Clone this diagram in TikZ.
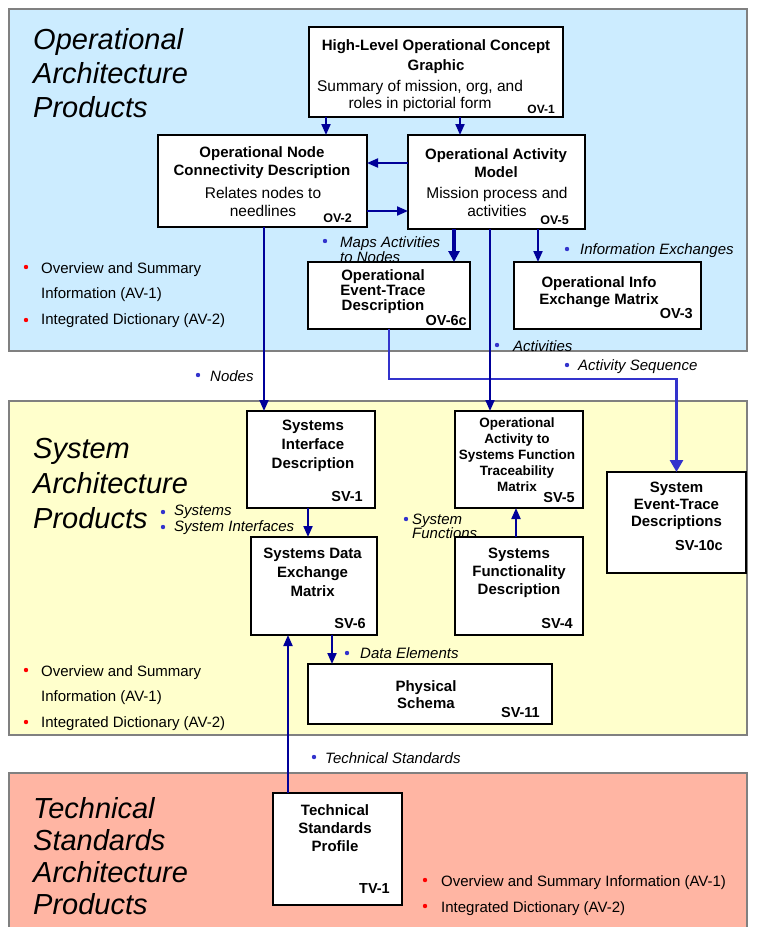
\documentclass[tikz,border=0pt]{standalone}
\usepackage{fontspec}
\setmainfont{Liberation Sans}
\usetikzlibrary{arrows.meta}

\definecolor{opblue}{HTML}{CCECFF}
\definecolor{sysyellow}{HTML}{FFFFCC}
\definecolor{techsalmon}{HTML}{FFB5A3}
\definecolor{panelgray}{HTML}{808080}
\definecolor{navy}{HTML}{000099}
\definecolor{linkblue}{HTML}{3333CC}
\definecolor{avred}{HTML}{FF0000}

% font helpers: size and leading
\newcommand\boxfont[2]{\fontsize{#1}{#2}\selectfont\bfseries}
\newcommand\plainfont[2]{\fontsize{#1}{#2}\selectfont}

\begin{document}
\begin{tikzpicture}[x=1pt,y=-1pt,
  panel/.style={draw=panelgray,line width=2.5pt},
  prod/.style={draw=black,line width=2pt,fill=white,anchor=north west,inner sep=0pt,outer sep=0pt},
  txt/.style={inner sep=0pt,align=center,anchor=north},
  code/.style={font=\boxfont{14.5}{14.5},inner sep=0pt,anchor=base east},
  title/.style={font=\plainfont{29}{34}\itshape,inner sep=0pt,align=left,anchor=north west},
  avlist/.style={font=\plainfont{15}{25.5},inner sep=0pt,align=left,anchor=north west},
  lbl/.style={font=\plainfont{15}{15}\itshape,inner sep=0pt,align=left,anchor=north west},
  flow/.style={navy,line width=2pt,-{Triangle[length=11pt,width=9pt]}},
  heavyflow/.style={navy,line width=4pt,-{Triangle[length=11pt,width=11pt]}},
  seq/.style={linkblue,line width=2.8pt,-{Triangle[length=12pt,width=13pt]}},
  bluedot/.style={fill=linkblue},
  reddot/.style={fill=avred}
]
\useasboundingbox (0,0) rectangle (756,927);
\fill[white] (0,0) rectangle (756,927);

% ---- panels ----
\filldraw[panel,fill=opblue] (9,9) rectangle (747,351);
\filldraw[panel,fill=sysyellow] (9,401) rectangle (747,735);
\filldraw[panel,fill=techsalmon] (9,773) rectangle (747,940);

% ---- panel titles ----
\node[title] (optitle) at (33,28) {Operational\\Architecture\\Products};
\node[title] (systitle) at (33,438) {System\\[1pt]Architecture\\[1pt]Products};
\node[title,font=\plainfont{29}{32}\itshape] (techtitle) at (33,797) {Technical\\Standards\\Architecture\\Products};

% ---- all-view lists ----
\fill[reddot] (26,267) circle (2.2pt);
\fill[reddot] (26,320) circle (2.2pt);
\node[avlist] (opav) at (41,262.2) {Overview and Summary\\Information (AV-1)\\Integrated Dictionary (AV-2)};
\fill[reddot] (26,670) circle (2.2pt);
\fill[reddot] (26,722) circle (2.2pt);
\node[avlist] (sysav) at (41,665.2) {Overview and Summary\\Information (AV-1)\\Integrated Dictionary (AV-2)};
\fill[reddot] (425,880) circle (2.2pt);
\fill[reddot] (425,906) circle (2.2pt);
\node[avlist,font=\plainfont{15}{26}] (techav) at (441,875.2) {Overview and Summary Information (AV-1)\\Integrated Dictionary (AV-2)};

% ---- connector labels ----
\fill[bluedot] (325,241) circle (2.2pt);
\node[lbl,font=\plainfont{15}{12}\itshape] (lmaps) at (340,236.2) {Maps Activities\\to Nodes};
\fill[bluedot] (567,249) circle (2.2pt);
\node[lbl] (linfo) at (580,243.2) {Information Exchanges};
\fill[bluedot] (497,345) circle (2.2pt);
\node[lbl] (lact) at (513,340.2) {Activities};
\fill[bluedot] (567,365) circle (2.2pt);
\node[lbl] (lseq) at (578,359.2) {Activity Sequence};
\fill[bluedot] (198,375) circle (2.2pt);
\node[lbl] (lnodes) at (210,370.2) {Nodes};
\fill[bluedot] (163,512) circle (2.2pt);
\fill[bluedot] (163,527) circle (2.2pt);
\node[lbl,font=\plainfont{15}{16}\itshape] (lsys) at (174,505.2) {Systems\\System Interfaces};
\fill[bluedot] (406,519) circle (2.2pt);
\node[lbl,font=\plainfont{15}{14}\itshape] (lfunc) at (412,514.2) {System\\Functions};
\fill[bluedot] (347,653) circle (2.2pt);
\node[lbl] (ldata) at (360,647.2) {Data Elements};
\fill[bluedot] (314,757) circle (2.2pt);
\node[lbl] (ltech) at (325,752.2) {Technical Standards};

% ---- product boxes ----
\node[prod,minimum width=254pt,minimum height=90pt] (ov1) at (309,27) {};
\node[prod,minimum width=209pt,minimum height=92pt] (ov2) at (158,135) {};
\node[prod,minimum width=177pt,minimum height=94pt] (ov5) at (408,135) {};
\node[prod,minimum width=162pt,minimum height=67pt] (ov6c) at (308,262) {};
\node[prod,minimum width=187pt,minimum height=67pt] (ov3) at (514,262) {};
\node[prod,minimum width=128pt,minimum height=97pt] (sv1) at (247,411) {};
\node[prod,minimum width=128pt,minimum height=97pt] (sv5) at (455,411) {};
\node[prod,minimum width=126pt,minimum height=98pt] (sv6) at (251,537) {};
\node[prod,minimum width=128pt,minimum height=98pt] (sv4) at (455,537) {};
\node[prod,minimum width=139pt,minimum height=101pt] (sv10c) at (607,472) {};
\node[prod,minimum width=244pt,minimum height=60pt] (sv11) at (308,664) {};
\node[prod,minimum width=129pt,minimum height=112pt] (tv1) at (273,793) {};

% ---- box contents ----
\node[txt,font=\boxfont{15}{20}] (ov1t) at (436,39.2) {High-Level Operational Concept\\Graphic};
\node[txt,font=\plainfont{15.5}{17}] (ov1d) at (420,80.5) {Summary of mission, org, and\\roles in pictorial form};
\node[code,font=\boxfont{12}{12}] (ov1c) at (555,113) {OV-1};

\node[txt,font=\boxfont{15}{18}] (ov2t) at (262,146.2) {Operational Node\\Connectivity Description};
\node[txt,font=\plainfont{15.5}{18}] (ov2d) at (263,186.8) {Relates nodes to\\needlines};
\node[code,font=\boxfont{12.5}{12.5}] (ov2c) at (352,222.7) {OV-2};

\node[txt,font=\boxfont{15}{18}] (ov5t) at (496,148.2) {Operational Activity\\Model};
\node[txt,font=\plainfont{15.5}{18}] (ov5d) at (497,186.8) {Mission process and\\activities};
\node[code,font=\boxfont{12.5}{12.5}] (ov5c) at (569,224) {OV-5};

\node[txt,font=\boxfont{15}{14.7}] (ov6ct) at (383,269.9) {Operational\\Event-Trace\\Description};
\node[code] (ov6cc) at (467,325) {OV-6c};

\node[txt,font=\boxfont{15}{17.5}] (ov3t) at (599,276.2) {Operational Info\\Exchange Matrix};
\node[code] (ov3c) at (693,318) {OV-3};

\node[txt,font=\boxfont{15}{19}] (sv1t) at (313,420) {Systems\\Interface\\Description};
\node[code] (sv1c) at (363,501) {SV-1};

\node[txt,font=\boxfont{13.5}{16}] (sv5t) at (517,417.3) {Operational\\Activity to\\Systems Function\\Traceability\\Matrix};
\node[code] (sv5c) at (575,502) {SV-5};

\node[txt,font=\boxfont{15}{19}] (sv6t) at (312.6,548.2) {Systems Data\\Exchange\\Matrix};
\node[code] (sv6c) at (366,628) {SV-6};

\node[txt,font=\boxfont{15}{18}] (sv4t) at (519,548.2) {Systems\\Functionality\\Description};
\node[code] (sv4c) at (573,628) {SV-4};

\node[txt,font=\boxfont{15}{17}] (sv10ct) at (676.5,482.2) {System\\Event-Trace\\Descriptions};
\node[code] (sv10cc) at (723,550) {SV-10c};

\node[txt,font=\boxfont{15}{17.5}] (sv11t) at (426,680.2) {Physical\\Schema};
\node[code] (sv11c) at (540,717) {SV-11};

\node[txt,font=\boxfont{15}{18}] (tv1t) at (335,804.2) {Technical\\Standards\\Profile};
\node[code] (tv1c) at (390,893) {TV-1};

% ---- connectors ----
\path ([xshift=17pt]ov1.south west) coordinate (a1);
\draw[flow] (a1) -- (a1 |- ov2.north);
\path ([xshift=151pt]ov1.south west) coordinate (a2);
\draw[flow] (a2) -- (a2 |- ov5.north);
\path ([yshift=-28pt]ov5.north west) coordinate (a3);
\draw[flow] (a3) -- (a3 -| ov2.east);
\path ([yshift=-76pt]ov2.north east) coordinate (a4);
\draw[flow] (a4) -- (a4 -| ov5.west);
\path ([xshift=46pt]ov5.south west) coordinate (a5);
\draw[heavyflow] (a5) -- (a5 |- ov6c.north);
\path ([xshift=130pt]ov5.south west) coordinate (a7);
\draw[flow] (a7) -- (a7 |- ov3.north);
\path ([xshift=106pt]ov2.south west) coordinate (a8);
\draw[flow] (a8) -- (a8 |- sv1.north);
\path ([xshift=81pt]ov6c.south west) coordinate (a9);
\coordinate (seqrow) at (0,379);
\draw[seq] (a9) -- (a9 |- seqrow) -| (sv10c.north);
\path ([xshift=82pt]ov5.south west) coordinate (a6);
\draw[flow] (a6) -- (a6 |- sv5.north);
\path ([xshift=61pt]sv1.south west) coordinate (b1);
\draw[flow] (b1) -- (b1 |- sv6.north);
\path ([xshift=61pt]sv4.north west) coordinate (b2);
\draw[flow] (b2) -- (b2 |- sv5.south);
\path ([xshift=81pt]sv6.south west) coordinate (b3);
\draw[flow] (b3) -- (b3 |- sv11.north);
\path ([xshift=15pt]tv1.north west) coordinate (b4);
\draw[flow] (b4) -- (b4 |- sv6.south);
\end{tikzpicture}
\end{document}
